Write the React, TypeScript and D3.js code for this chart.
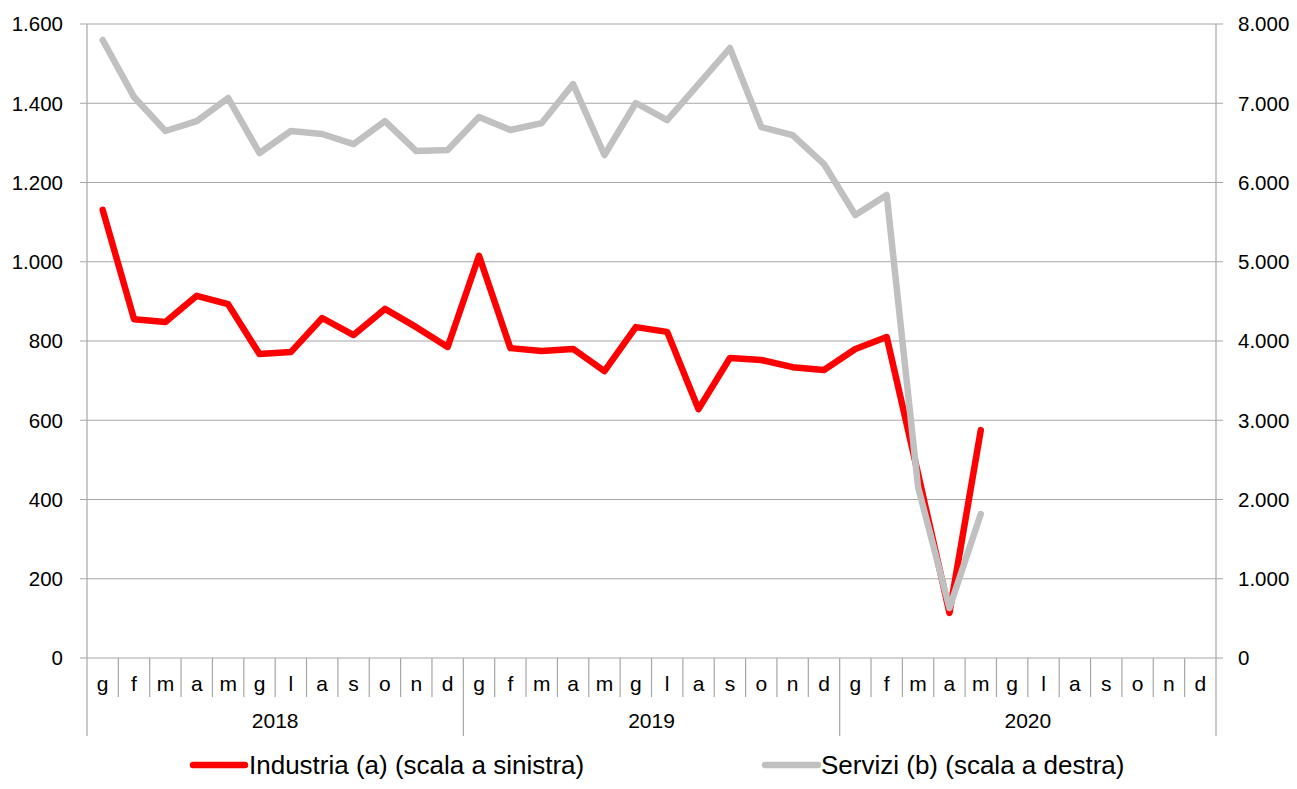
import React from 'react';
import * as d3 from 'd3';

const years = ['2018', '2019', '2020'];
const months = ['g', 'f', 'm', 'a', 'm', 'g', 'l', 'a', 's', 'o', 'n', 'd'];

// Industria (a), left scale
const industria = [
  1131, 855, 848, 914, 893, 767, 772, 858, 815, 881, 835, 785,
  1015, 782, 775, 780, 724, 835, 823, 628, 757, 752, 734, 727,
  780, 810, 465, 114, 575,
];

// Servizi (b), right scale
const servizi = [
  7798, 7078, 6650, 6775, 7066, 6372, 6650, 6612, 6485, 6775, 6397, 6410,
  6826, 6662, 6750, 7242, 6347, 7003, 6788, 7242, 7697, 6700, 6599, 6233,
  5590, 5842, 2158, 631, 1817,
];

const leftTicks = [0, 200, 400, 600, 800, 1000, 1200, 1400, 1600];
const rightTicks = [0, 1000, 2000, 3000, 4000, 5000, 6000, 7000, 8000];

const W = 1297;
const H = 789;
const font = 'Liberation Sans, Arial, sans-serif';
const axisGrey = '#a6a6a6';

const itFormat = d3.formatLocale({
  decimal: ',',
  thousands: '.',
  grouping: [3],
  currency: ['€', ''],
}).format(',.0f');

const App: React.FC = () => {
  const left = 87;
  const right = 1216;
  const top = 24;
  const bottom = 658;

  const nCat = years.length * months.length;
  const x = d3.scaleLinear().domain([0, nCat]).range([left, right]);
  const yL = d3.scaleLinear().domain([0, 1600]).range([bottom, top]);
  const yR = d3.scaleLinear().domain([0, 8000]).range([bottom, top]);

  const lineL = d3.line<number>()
    .x((_, i) => x(i + 0.5))
    .y((d) => yL(d));
  const lineR = d3.line<number>()
    .x((_, i) => x(i + 0.5))
    .y((d) => yR(d));

  const cats = d3.range(nCat);

  return (
    <svg
      width={W}
      height={H}
      style={{ position: 'absolute', left: 0, top: 0, background: '#fff' }}
      fontFamily={font}
    >
      {/* gridlines + tick marks */}
      {leftTicks.map((t) => (
        <line key={'g' + t} x1={left - 7} x2={right + 7} y1={yL(t)} y2={yL(t)}
          stroke={axisGrey} strokeWidth={1.2} />
      ))}
      {/* left and right axes */}
      <line x1={left} x2={left} y1={top} y2={736} stroke={axisGrey} strokeWidth={1.2} />
      <line x1={right} x2={right} y1={top} y2={736} stroke={axisGrey} strokeWidth={1.2} />

      {/* category dividers */}
      {cats.slice(1).map((i) => (
        <line key={'c' + i} x1={x(i)} x2={x(i)} y1={bottom}
          y2={i % 12 === 0 ? 736 : 697} stroke={axisGrey} strokeWidth={1.2} />
      ))}

      {/* left tick labels */}
      {leftTicks.map((t) => (
        <text key={'l' + t} x={63} y={yL(t)} dy="0.36em" textAnchor="end" fontSize={20.5} fill="#000">
          {itFormat(t)}
        </text>
      ))}
      {/* right tick labels */}
      {rightTicks.map((t) => (
        <text key={'r' + t} x={1238} y={yR(t)} dy="0.36em" textAnchor="start" fontSize={20.5} fill="#000">
          {itFormat(t)}
        </text>
      ))}

      {/* month labels */}
      {cats.map((i) => (
        <text key={'m' + i} x={x(i + 0.5)} y={683} dy="0.36em" textAnchor="middle" fontSize={21} fill="#000">
          {months[i % 12]}
        </text>
      ))}
      {/* year labels */}
      {years.map((yr, j) => (
        <text key={yr} x={x(j * 12 + 6)} y={720} dy="0.36em" textAnchor="middle" fontSize={21} fill="#000">
          {yr}
        </text>
      ))}

      {/* series */}
      <path d={lineL(industria) || ''} fill="none" stroke="#ff0000" strokeWidth={6.5}
        strokeLinejoin="round" strokeLinecap="round" />
      <path d={lineR(servizi) || ''} fill="none" stroke="#c0c0c0" strokeWidth={6.5}
        strokeLinejoin="round" strokeLinecap="round" />

      {/* legend */}
      <line x1={193} x2={245} y1={765} y2={765} stroke="#ff0000" strokeWidth={6.5} strokeLinecap="round" />
      <text x={249} y={765} dy="0.36em" fontSize={26} fill="#000">Industria (a) (scala a sinistra)</text>
      <line x1={765} x2={818} y1={765} y2={765} stroke="#c0c0c0" strokeWidth={6.5} strokeLinecap="round" />
      <text x={821} y={765} dy="0.36em" fontSize={26} fill="#000">Servizi (b) (scala a destra)</text>
    </svg>
  );
};

export default App;
